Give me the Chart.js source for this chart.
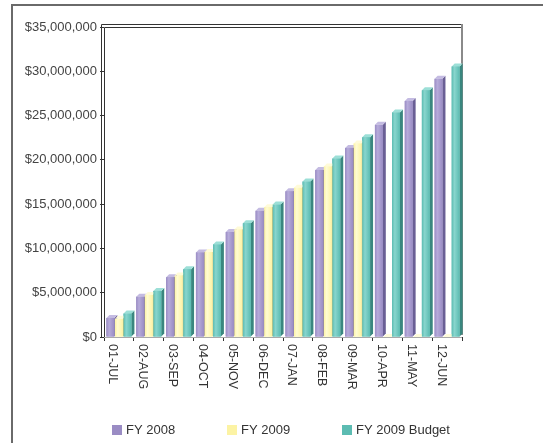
<!DOCTYPE html>
<html><head><meta charset="utf-8">
<script src="https://cdn.jsdelivr.net/npm/chart.js@4/dist/chart.umd.min.js"></script>
<style>html,body{margin:0;padding:0;background:#fff;overflow:hidden}#wrap{width:543px;height:443px;position:relative}</style>
</head><body><div id="wrap"><canvas id="c"></canvas></div>
<script>
const months = ['01-JUL','02-AUG','03-SEP','04-OCT','05-NOV','06-DEC','07-JAN','08-FEB','09-MAR','10-APR','11-MAY','12-JUN'];
const fy2008 = [2150000,4550000,6750000,9550000,11850000,14250000,16450000,18850000,21350000,23950000,26650000,29150000];
const fy2009 = [2050000,4750000,6950000,9600000,12150000,14650000,16850000,19250000,21850000,0,0,0];
const fy2009Budget = [2650000,5200000,7650000,10450000,12850000,14950000,17550000,20150000,22550000,25350000,27850000,30550000];
const seriesNames = ['FY 2008','FY 2009','FY 2009 Budget'];
const yTicks = [0,5000000,10000000,15000000,20000000,25000000,30000000,35000000];

const FONT = '"Liberation Sans", Arial, sans-serif';
const front = ['#9a8cc4','#fcf3a4','#5cbcb2'];
const light = ['#b6abda','#fffbd2','#88d5cd'];
const side = ['#6a5f95','#cfc47a','#3a877f'];
const topc = ['#c4bbe2','#fffbd8','#9cdfd7'];
const DEPTH = 3;

const bar3d = {
  id:'bar3d',
  afterDatasetsDraw(chart){
    const ctx = chart.ctx;
    const metas = chart.data.datasets.map((d,i)=>chart.getDatasetMeta(i));
    ctx.save();
    for(let i=0;i<months.length;i++){
      metas.forEach((meta,di)=>{
        const el = meta.data[i]; if(!el) return;
        const p = el.getProps(['x','y','base','width'], true);
        const l = p.x - p.width/2, r = p.x + p.width/2, y = p.y, b = p.base;
        ctx.fillStyle = side[di];
        ctx.beginPath(); ctx.moveTo(r,y); ctx.lineTo(r+DEPTH,y-DEPTH); ctx.lineTo(r+DEPTH,b-DEPTH); ctx.lineTo(r,b); ctx.closePath(); ctx.fill();
        ctx.fillStyle = topc[di];
        ctx.beginPath(); ctx.moveTo(l,y); ctx.lineTo(l+DEPTH,y-DEPTH); ctx.lineTo(r+DEPTH,y-DEPTH); ctx.lineTo(r,y); ctx.closePath(); ctx.fill();
        if (b - y > 0.5){
          const g = ctx.createLinearGradient(l,0,r,0);
          g.addColorStop(0, front[di]); g.addColorStop(0.35, light[di]); g.addColorStop(1, front[di]);
          ctx.fillStyle = g;
          ctx.fillRect(l, y, p.width, b - y);
        }
      });
    }
    ctx.restore();
  }
};

const frame = {
  id:'frame',
  beforeDraw(chart){
    const ctx = chart.ctx;
    ctx.save();
    ctx.fillStyle='#fff'; ctx.fillRect(0,0,chart.width,chart.height);
    ctx.strokeStyle='#6a6a6a'; ctx.lineWidth=2;
    ctx.strokeRect(12,5,chart.width+20,chart.height+20);
    ctx.restore();
  },
  beforeDatasetsDraw(chart){
    const {left:L,top:T,right:R,bottom:B} = chart.chartArea;
    const ctx = chart.ctx;
    ctx.save();
    ctx.lineWidth=1; ctx.strokeStyle='#333';
    ctx.beginPath();
    ctx.moveTo(L-2.5,B); ctx.lineTo(L-2.5,T-2.5); ctx.lineTo(R-1,T-2.5);
    ctx.moveTo(L+0.5,B); ctx.lineTo(L+0.5,T+0.5); ctx.lineTo(R-1,T+0.5);
    ctx.stroke();
    ctx.strokeStyle='#8a8a8a'; ctx.lineWidth=2;
    ctx.beginPath(); ctx.moveTo(R,T-3); ctx.lineTo(R,B-2); ctx.stroke();
    ctx.strokeStyle='#aaa'; ctx.lineWidth=1;
    ctx.beginPath(); ctx.moveTo(L,B+0.5); ctx.lineTo(R,B+0.5); ctx.stroke();
    ctx.restore();
  },
  afterDraw(chart){
    const ctx = chart.ctx;
    const xs = chart.scales.x;
    ctx.save();
    ctx.font = '12.5px ' + FONT;
    ctx.fillStyle = '#333';
    ctx.textAlign='left'; ctx.textBaseline='middle';
    xs.ticks.forEach((t,i)=>{
      const x = xs.getPixelForTick(i) - 6;
      ctx.save(); ctx.translate(x, xs.top + 7); ctx.rotate(Math.PI/2);
      ctx.fillText(xs.getLabelForValue(t.value), 0, 0);
      ctx.restore();
    });
    // legend
    ctx.font = '13px ' + FONT;
    const startX = 112, stepX = 115, ly = 430;
    chart.data.datasets.forEach((ds,i)=>{
      const bx = startX + i*stepX;
      ctx.fillStyle = ds.backgroundColor;
      ctx.fillRect(bx, ly-5, 10, 10);
      ctx.fillStyle = '#333';
      ctx.fillText(ds.label, bx+14, ly);
    });
    ctx.restore();
  }
};

new Chart(document.getElementById('c'), {
  type:'bar',
  data:{
    labels: months,
    datasets:[
      {label:seriesNames[0], data:fy2008, backgroundColor:front[0]},
      {label:seriesNames[1], data:fy2009, backgroundColor:front[1]},
      {label:seriesNames[2], data:fy2009Budget, backgroundColor:front[2]}
    ]
  },
  options:{
    responsive:true, maintainAspectRatio:false, animation:false,
    devicePixelRatio: 1,
    layout:{padding:{left:12,top:27,right:81,bottom:50}},
    datasets:{bar:{categoryPercentage:0.86, barPercentage:0.92, borderWidth:0}},
    plugins:{legend:{display:false}, tooltip:{enabled:false}},
    scales:{
      x:{
        grid:{offset:true, drawOnChartArea:false, drawTicks:true, tickLength:4, color:'#333'},
        border:{display:false},
        ticks:{display:false},
        afterFit(s){ s.height = 56; }
      },
      y:{
        min:0, max:35000000,
        afterBuildTicks(s){ s.ticks = yTicks.map(v=>({value:v})); },
        grid:{drawOnChartArea:false, drawTicks:true, tickLength:4, color:'#333'},
        border:{display:false},
        ticks:{padding:3, color:'#444', font:{family:FONT, size:13},
          callback:(v)=>'$'+Number(v).toLocaleString('en-US')},
        afterFit(s){ s.width = 92; }
      }
    }
  },
  plugins:[frame, bar3d]
});
</script></body></html>
